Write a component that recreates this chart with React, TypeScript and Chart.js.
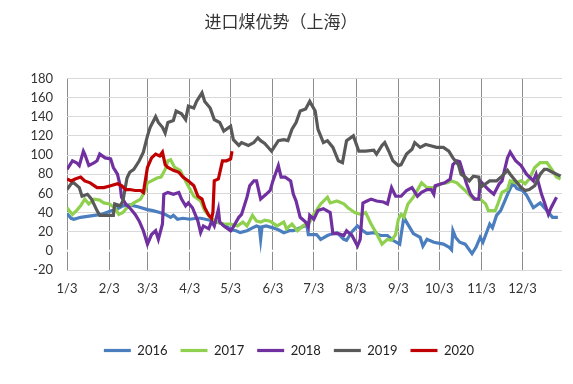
import React, { useEffect, useRef } from 'react';
import { Chart, registerables } from 'chart.js';

Chart.register(...registerables);

const TITLE = '进口煤优势（上海）';
const tickDays = [0, 31, 59, 90, 120, 151, 181, 212, 243, 273, 304, 334];
const tickLabels = ['1/3', '2/3', '3/3', '4/3', '5/3', '6/3', '7/3', '8/3', '9/3', '10/3', '11/3', '12/3'];
const yTicks = [-20, 0, 20, 40, 60, 80, 100, 120, 140, 160, 180];

const seriesNames = ['2016', '2017', '2018', '2019', '2020'];
const seriesColors = ['#4a7ebf', '#8fd14f', '#7030a0', '#595959', '#c00000'];

const d2016 = [0, 3, 5, 10, 15, 20, 25, 31, 37, 41, 46, 52, 59, 63, 68, 72, 76, 78, 81, 85, 90, 95, 98, 105, 112, 116, 120, 124, 127, 132, 136, 139, 141, 142, 143, 146, 151, 155, 159, 163, 166, 171, 174, 176, 177, 183, 186, 191, 195, 198, 203, 205, 209, 213, 217, 220, 225, 230, 235, 239, 244, 247, 249, 254, 259, 261, 264, 269, 276, 280, 282, 283, 285, 288, 292, 297, 300, 303, 305, 310, 312, 315, 318, 321, 324, 327, 330, 334, 337, 342, 347, 352, 356, 360];
const v2016 = [39, 34, 33, 35, 36, 37, 38, 41, 44, 47, 48, 46, 43, 42, 40, 38, 35, 37, 33, 34, 33, 34, 34, 32, 29, 27, 22, 21, 19, 21, 24, 26, 25, 12, 25, 26, 24, 22, 19, 21, 21, 24, 26, 26, 17, 17, 12, 16, 18, 19, 12, 11, 20, 26, 21, 18, 19, 16, 16, 11, 7, 35, 30, 18, 14, 5, 12, 9, 7, 4, 1, 21, 14, 9, 7, -3, 4, 14, 9, 28, 24, 37, 42, 52, 62, 71, 65, 63, 58, 45, 50, 42, 35, 35];

const d2017 = [0, 4, 7, 10, 13, 16, 20, 24, 27, 31, 35, 38, 41, 44, 49, 54, 57, 59, 62, 66, 69, 72, 74, 76, 79, 83, 88, 93, 98, 101, 105, 110, 115, 120, 125, 129, 132, 136, 139, 142, 145, 149, 154, 159, 161, 165, 169, 173, 178, 181, 186, 191, 193, 198, 203, 206, 211, 216, 219, 223, 227, 231, 235, 238, 241, 243, 245, 247, 250, 254, 258, 260, 264, 269, 274, 279, 282, 286, 288, 292, 298, 303, 307, 309, 314, 316, 319, 323, 325, 329, 333, 336, 339, 343, 347, 352, 356, 359, 362];
const v2017 = [45, 38, 42, 47, 54, 49, 54, 53, 50, 49, 45, 38, 40, 45, 50, 54, 62, 71, 73, 76, 77, 85, 94, 95, 87, 84, 70, 57, 52, 42, 35, 30, 28, 28, 26, 30, 26, 37, 31, 30, 32, 31, 26, 30, 23, 28, 21, 26, 30, 38, 49, 56, 50, 52, 49, 45, 40, 38, 40, 28, 18, 7, 12, 11, 17, 33, 38, 35, 49, 56, 66, 71, 66, 66, 70, 71, 73, 71, 68, 63, 54, 54, 49, 42, 42, 49, 61, 64, 73, 71, 73, 70, 75, 87, 92, 92, 84, 77, 75];

const d2018 = [0, 4, 7, 9, 12, 13, 16, 20, 22, 24, 28, 32, 34, 37, 39, 40, 43, 46, 50, 53, 56, 59, 62, 65, 67, 70, 71, 74, 78, 82, 84, 87, 89, 92, 94, 96, 98, 100, 104, 106, 108, 111, 112, 115, 120, 122, 126, 128, 132, 134, 137, 139, 142, 146, 149, 151, 155, 157, 160, 164, 166, 168, 171, 175, 177, 178, 181, 184, 188, 193, 195, 199, 203, 205, 209, 213, 215, 217, 220, 223, 227, 232, 235, 238, 241, 245, 249, 253, 257, 260, 264, 267, 269, 270, 277, 281, 283, 286, 288, 290, 293, 296, 299, 302, 303, 305, 309, 313, 317, 319, 323, 325, 329, 333, 337, 342, 344, 348, 350, 353, 355, 359];
const v2018 = [85, 94, 92, 89, 104, 101, 89, 92, 94, 101, 97, 96, 87, 80, 68, 56, 49, 45, 38, 31, 21, 7, 17, 21, 12, 28, 59, 61, 59, 61, 54, 47, 50, 45, 38, 31, 19, 26, 23, 31, 26, 43, 30, 26, 21, 25, 35, 38, 56, 68, 73, 73, 54, 59, 63, 73, 89, 77, 77, 73, 59, 52, 35, 30, 25, 37, 33, 42, 44, 40, 18, 18, 16, 21, 16, 5, 12, 50, 52, 54, 52, 51, 49, 66, 57, 57, 63, 66, 57, 61, 64, 64, 59, 68, 71, 75, 90, 94, 93, 84, 70, 59, 54, 54, 73, 70, 64, 59, 70, 73, 97, 103, 94, 89, 80, 73, 80, 59, 51, 38, 45, 56];

const d2019 = [0, 3, 5, 9, 11, 15, 18, 22, 24, 29, 34, 35, 39, 41, 44, 46, 49, 53, 56, 59, 61, 65, 67, 70, 72, 74, 78, 80, 84, 87, 89, 93, 95, 99, 101, 105, 108, 112, 115, 120, 122, 126, 128, 133, 137, 140, 142, 145, 150, 155, 159, 162, 165, 168, 171, 175, 178, 182, 184, 188, 191, 195, 199, 202, 205, 210, 214, 219, 225, 227, 231, 233, 236, 239, 243, 245, 249, 253, 255, 259, 263, 266, 271, 276, 280, 283, 287, 289, 292, 295, 298, 302, 303, 307, 310, 315, 319, 323, 325, 329, 333, 336, 339, 343, 347, 350, 352, 356, 362];
const v2019 = [64, 70, 71, 66, 57, 59, 54, 42, 37, 37, 37, 49, 47, 52, 76, 82, 85, 94, 103, 120, 129, 140, 134, 129, 123, 134, 136, 146, 143, 137, 151, 149, 156, 165, 156, 149, 137, 134, 125, 130, 116, 110, 113, 110, 113, 118, 115, 112, 104, 115, 116, 115, 127, 134, 146, 148, 156, 146, 127, 113, 115, 108, 94, 92, 115, 120, 104, 104, 105, 101, 110, 113, 104, 94, 89, 90, 101, 106, 113, 108, 111, 110, 108, 108, 104, 97, 90, 80, 77, 73, 78, 77, 66, 70, 73, 73, 78, 84, 80, 73, 66, 63, 64, 68, 80, 85, 85, 82, 78];

const d2020 = [0, 3, 6, 10, 13, 17, 22, 27, 32, 37, 40, 43, 46, 50, 54, 56, 59, 62, 65, 68, 70, 72, 74, 78, 82, 85, 89, 93, 96, 99, 101, 104, 106, 107, 108, 111, 114, 117, 120, 121];
const v2020 = [75, 73, 75, 77, 73, 71, 66, 66, 68, 70, 68, 64, 64, 63, 63, 61, 87, 97, 101, 99, 103, 90, 87, 84, 82, 77, 73, 68, 57, 54, 45, 37, 34, 40, 73, 75, 94, 94, 96, 104];

const seriesDays = [d2016, d2017, d2018, d2019, d2020];
const seriesVals = [v2016, v2017, v2018, v2019, v2020];

const zeroLinePlugin = {
  id: 'zeroLine',
  afterLayout(chart: any) {
    if (chart.legend) {
      chart.legend.left += 8;
      chart.legend.right += 8;
    }
  },
  beforeDatasetsDraw(chart: any) {
    const { ctx, chartArea, scales } = chart;
    const y = scales.y.getPixelForValue(0);
    ctx.save();
    ctx.strokeStyle = '#ffffff';
    ctx.lineWidth = 2;
    ctx.beginPath();
    ctx.moveTo(chartArea.left - 1, y);
    ctx.lineTo(chartArea.right, y);
    ctx.stroke();
    ctx.restore();
  },
};

export default function App() {
  const ref = useRef<HTMLCanvasElement>(null);
  useEffect(() => {
    Chart.defaults.font.family = 'Lato';
    const datasets = seriesNames.map((name, i) => ({
      label: name,
      data: seriesDays[i].map((d, j) => ({ x: d, y: seriesVals[i][j] })),
      borderColor: seriesColors[i],
      backgroundColor: seriesColors[i],
      borderWidth: 3.2,
      pointRadius: 0,
      tension: 0,
      fill: false,
      order: seriesNames.length - i,
    }));
    const chart = new Chart(ref.current!, {
      type: 'line',
      data: { datasets },
      plugins: [zeroLinePlugin],
      options: {
        animation: false,
        responsive: false,
        layout: { padding: { left: 0, right: 11, top: 0, bottom: 17 } },
        plugins: {
          title: {
            display: true,
            text: TITLE,
            color: '#333333',
            font: { family: 'Noto Sans CJK SC', size: 17, weight: 'normal' },
            padding: { top: 11, bottom: 47 },
          },
          legend: {
            position: 'bottom',
            labels: {
              usePointStyle: true,
              pointStyle: 'line',
              pointStyleWidth: 27,
              boxHeight: 13,
              padding: 13,
              color: '#222222',
              font: { size: 13 },
              sort: (a: any, b: any) => a.datasetIndex - b.datasetIndex,
            },
          },
          tooltip: { enabled: false },
        },
        scales: {
          x: {
            type: 'linear',
            min: 0,
            max: 363,
            afterBuildTicks: (axis: any) => {
              axis.ticks = tickDays.map((v) => ({ value: v }));
            },
            afterFit: (scale: any) => {
              scale.height = 61;
            },
            ticks: {
              autoSkip: false,
              maxRotation: 0,
              padding: 11,
              color: '#333333',
              font: { size: 13 },
              callback: (_v: any, i: number) => tickLabels[i],
            },
            grid: { color: '#8c8c8c', drawTicks: false },
            border: { display: false },
          },
          y: {
            min: -20,
            max: 180,
            afterBuildTicks: (axis: any) => {
              axis.ticks = yTicks.map((v) => ({ value: v }));
            },
            afterFit: (scale: any) => {
              scale.width = 67;
            },
            ticks: {
              padding: 14,
              color: '#333333',
              font: { size: 13 },
            },
            grid: {
              color: (c: any) => (c.tick && c.tick.value === 0 ? 'rgba(0,0,0,0)' : '#d9d9d9'),
              drawTicks: false,
            },
            border: { display: false },
          },
        },
      },
    } as any);
    return () => chart.destroy();
  }, []);
  return (
    <div style={{ position: 'fixed', left: 0, top: 0, width: 573, height: 384, background: '#fff' }}>
      <canvas ref={ref} width={573} height={384} style={{ display: 'block' }} />
    </div>
  );
}
